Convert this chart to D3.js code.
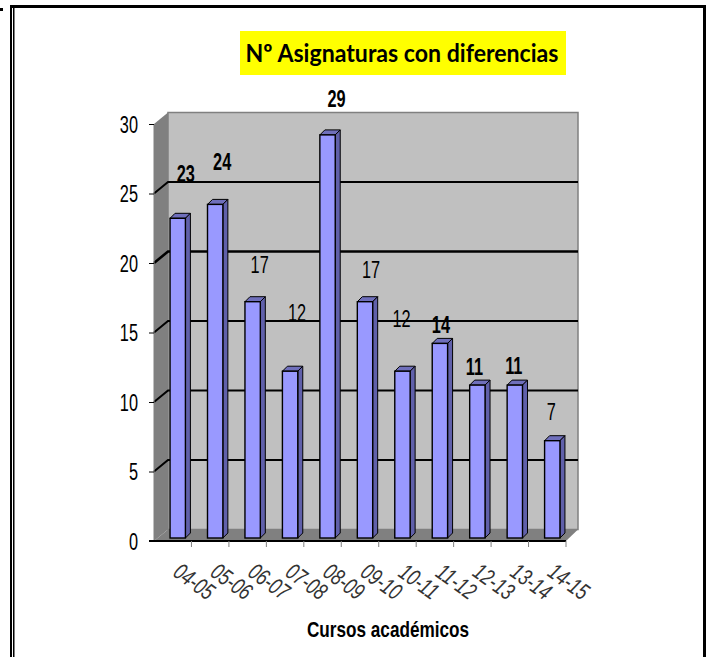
<!DOCTYPE html>
<html><head><meta charset="utf-8">
<script src="https://cdn.jsdelivr.net/npm/d3@7"></script>
<style>html,body{margin:0;padding:0;background:#fff}svg{display:block}</style>
</head><body><svg id="c" width="712" height="657"></svg>
<script>
const categories=["04-05","05-06","06-07","07-08","08-09","09-10","10-11","11-12","12-13","13-14","14-15"];
const values=[23,24,17,12,29,17,12,14,11,11,7];
const yTicks=[0,5,10,15,20,25,30];
const titleText="Nº Asignaturas con diferencias";
const xTitle="Cursos académicos";
// hand-placed label nudges in the original chart (px from bar centre / bar top)
const labelDx=[8,7,7,7,9,6,-1,1,-3,-1,-1];
const labelDy=[-45,-43,-37,-59,-36,-32,-53,-19,-19,-20,-29];

const svg=d3.select("#c");
const sans="'Liberation Sans',Arial,sans-serif";
// condensed text helper: the source uses a tall, narrow face
function narrowText(px,py,str,size,sx,weight,anchor){
  return svg.append("text").attr("transform",`translate(${px},${py}) scale(${sx},1)`)
    .attr("text-anchor",anchor||"middle").attr("font-family",sans).attr("font-size",size)
    .attr("font-weight",weight||400).attr("fill","#000").text(str);
}
// frame
const frame=svg.append("g").attr("fill","#000");
frame.append("rect").attr("x",0).attr("y",8).attr("width",3).attr("height",3);
frame.append("rect").attr("x",10).attr("y",5).attr("width",696).attr("height",3);
frame.append("rect").attr("x",10).attr("y",5).attr("width",2).attr("height",652);
frame.append("rect").attr("x",13).attr("y",8).attr("width",1.5).attr("height",649);
frame.append("rect").attr("x",703).attr("y",5).attr("width",3).attr("height",652);

// title
svg.append("rect").attr("x",240).attr("y",31).attr("width",326).attr("height",44).attr("fill","#ffff00");
svg.append("text").attr("x",402).attr("y",62).attr("text-anchor","middle")
  .attr("font-family","Lato,sans-serif").attr("font-weight",700).attr("font-size",25)
  .attr("textLength",313).attr("lengthAdjust","spacingAndGlyphs").text(titleText);

// scales
const x=d3.scaleBand().domain(categories).range([154,566]).paddingInner(0.59).paddingOuter(0.295);
const y=d3.scaleLinear().domain([0,30]).range([541,124]);
const depthX=14,depthY=-11.5;
const barDepthX=5,barDepthY=-5;
const barShift=[5,-3];

// back wall, side wall, floor
const wallL=x.range()[0], wallR=x.range()[1];
const pts=a=>a.map(p=>p.join(",")).join(" ");
svg.append("polygon").attr("points",pts([[wallL+depthX,y(30)+depthY],[wallR+depthX-2,y(30)+depthY],[wallR+depthX-2,y(0)+depthY],[wallL+depthX,y(0)+depthY]]))
  .attr("fill","#c0c0c0").attr("stroke","#808080").attr("stroke-width",1.5);
svg.append("polygon").attr("points",pts([[wallL,y(30)],[wallL+depthX,y(30)+depthY],[wallL+depthX,y(0)+depthY],[wallL,y(0)]])).attr("fill","#808080");
svg.append("polygon").attr("points",pts([[wallL,y(0)],[wallL+depthX,y(0)+depthY],[wallR+depthX-2,y(0)+depthY],[wallR,y(0)]])).attr("fill","#808080");

// gridlines
yTicks.filter(d=>d>0&&d<30).forEach(d=>{
  svg.append("polyline").attr("fill","none").attr("stroke","#000").attr("stroke-width",d===20?2.6:2)
    .attr("points",pts([[wallL,y(d)],[wallL+depthX,y(d)+depthY],[wallR+depthX-2,y(d)+depthY]]));
});

// axes
svg.append("line").attr("x1",wallL).attr("x2",wallL).attr("y1",y(30)).attr("y2",y(0)).attr("stroke","#808080");
svg.append("line").attr("x1",wallL-5).attr("x2",wallR).attr("y1",y(0)).attr("y2",y(0)).attr("stroke","#000").attr("stroke-width",2);
const yAxis=d3.axisLeft(y).tickValues(yTicks).tickSize(5).tickFormat("");
const gy=svg.append("g").attr("transform",`translate(${wallL},0)`).call(yAxis);
gy.select(".domain").remove();
gy.selectAll("line").attr("stroke","#000");
yTicks.forEach(d=>narrowText(wallL-16,y(d)+8.5,d3.format("d")(d),24,0.68,400,"end"));
const band=x.step();
const gx=svg.append("g");
categories.forEach((c,i)=>{
  const tx=wallL+band*(i+1);
  gx.append("line").attr("x1",tx).attr("x2",tx).attr("y1",y(0)).attr("y2",y(0)+6).attr("stroke","#808080");
  gx.append("text").attr("transform",`translate(${tx-2},${y(0)+47}) rotate(36) scale(0.82,1.12)`).attr("text-anchor","middle")
    .attr("font-family",sans).attr("font-style","italic").attr("font-size",21).attr("fill","#333").text(c);
});

// bars
const bars=svg.append("g").selectAll("g").data(values).join("g");
bars.each(function(v,i){
  const g=d3.select(this);
  const L=x(categories[i])+barShift[0], R=L+x.bandwidth(), T=y(v)+barShift[1], B=y(0)+barShift[1];
  g.append("polygon").attr("points",pts([[L,T],[L+barDepthX,T+barDepthY],[R+barDepthX,T+barDepthY],[R,T]]))
    .attr("fill","#6f6fbb").attr("stroke","#000").attr("stroke-width",1);
  g.append("polygon").attr("points",pts([[R,T],[R+barDepthX,T+barDepthY],[R+barDepthX,B+barDepthY],[R,B]]))
    .attr("fill","#6060aa").attr("stroke","#000").attr("stroke-width",1);
  g.append("rect").attr("x",L).attr("y",T).attr("width",R-L).attr("height",B-T)
    .attr("fill","#9999ff").attr("stroke","#000").attr("stroke-width",1.4);
  narrowText((L+R)/2+labelDx[i],T+labelDy[i]+8.5,v,24,0.68,(i<2||i==4||i==7||i==8||i==9)?700:400);
});

narrowText(388,637,xTitle,22,0.78,700);
</script></body></html>
